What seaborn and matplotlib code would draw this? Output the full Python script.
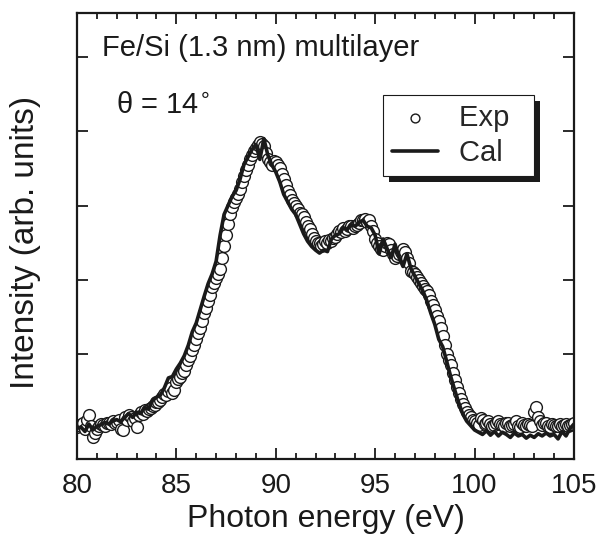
import numpy as np
import pandas as pd
import matplotlib
matplotlib.use("Agg")
import matplotlib.pyplot as plt
import seaborn as sns
from matplotlib.patches import Rectangle
from matplotlib.ticker import MultipleLocator

# %%
# Data
# experiment: 80-105 eV, 0.1 eV step; calculation: 80-105 eV, 0.2 eV step
exp_start, exp_step = 80.0, 0.1
cal_start, cal_step = 80.0, 0.2

exp_intensity = [
    0.02, 0.05, 0.04, 0.08, 0.00, 0.12, 0.18, 0.03, -0.12, -0.06,
    0.00, 0.04, 0.06, 0.05, 0.03, 0.07, 0.08, 0.06, 0.10, 0.08,
    0.09, 0.12, 0.00, -0.02, 0.15, 0.12, 0.18, 0.16, 0.10, 0.14,
    0.02, 0.18, 0.22, 0.20, 0.25, 0.24, 0.26, 0.28, 0.30, 0.32,
    0.35, 0.36, 0.38, 0.42, 0.47, 0.45, 0.50, 0.55, 0.48, 0.52,
    0.62, 0.66, 0.69, 0.74, 0.78, 0.85, 0.92, 0.98, 1.05, 1.12,
    1.20, 1.28, 1.35, 1.45, 1.55, 1.62, 1.72, 1.80, 1.90, 1.96,
    2.02, 2.08, 2.15, 2.30, 2.45, 2.60, 2.75, 2.88, 2.98, 3.05,
    3.10, 3.15, 3.22, 3.32, 3.40, 3.48, 3.55, 3.62, 3.68, 3.74,
    3.78, 3.82, 3.85, 3.83, 3.80, 3.70, 3.62, 3.58, 3.55, 3.60,
    3.58, 3.55, 3.50, 3.42, 3.35, 3.28, 3.20, 3.14, 3.08, 3.04,
    3.00, 2.95, 2.90, 2.88, 2.84, 2.78, 2.72, 2.68, 2.62, 2.56,
    2.52, 2.50, 2.50, 2.46, 2.48, 2.52, 2.50, 2.54, 2.52, 2.56,
    2.58, 2.62, 2.66, 2.64, 2.70, 2.66, 2.68, 2.72, 2.72, 2.70,
    2.72, 2.74, 2.76, 2.80, 2.80, 2.82, 2.78, 2.80, 2.72, 2.66,
    2.55, 2.50, 2.45, 2.42, 2.40, 2.46, 2.50, 2.48, 2.40, 2.35,
    2.30, 2.32, 2.35, 2.38, 2.42, 2.38, 2.30, 2.22, 2.12, 2.10,
    2.08, 2.04, 2.00, 1.96, 1.92, 1.88, 1.85, 1.80, 1.72, 1.66,
    1.60, 1.52, 1.45, 1.35, 1.25, 1.12, 1.00, 0.92, 0.85, 0.75,
    0.65, 0.56, 0.48, 0.40, 0.33, 0.28, 0.22, 0.18, 0.15, 0.12,
    0.10, 0.07, 0.05, 0.14, 0.12, 0.06, 0.08, 0.10, 0.06, 0.04,
    0.05, 0.08, 0.10, 0.06, 0.05, 0.03, 0.08, 0.07, 0.03, 0.05,
    0.06, 0.10, 0.04, 0.02, 0.07, 0.05, 0.03, 0.06, 0.05, 0.04,
    0.22, 0.29, 0.15, 0.10, 0.05, 0.08, 0.07, 0.04, 0.02, 0.06,
    0.05, 0.03, 0.04, 0.06, 0.03, 0.05, 0.06, 0.04, 0.05, 0.06,
    0.08,
]

cal_intensity = [
    0.00, 0.02, -0.04, 0.06, -0.02, 0.03, 0.05, 0.08, 0.06, 0.10,
    0.12, 0.09, 0.15, 0.20, 0.15, 0.22, 0.20, 0.28, 0.26, 0.38,
    0.42, 0.45, 0.55, 0.68, 0.70, 0.80, 0.88, 0.98, 1.12, 1.30,
    1.42, 1.60, 1.78, 1.95, 2.08, 2.25, 2.60, 2.88, 3.00, 3.12,
    3.20, 3.35, 3.55, 3.65, 3.75, 3.82, 3.62, 3.90, 3.68, 3.55,
    3.45, 3.32, 3.15, 3.05, 2.95, 2.88, 2.75, 2.62, 2.52, 2.45,
    2.40, 2.36, 2.40, 2.38, 2.55, 2.60, 2.62, 2.70, 2.68, 2.74,
    2.72, 2.78, 2.80, 2.72, 2.70, 2.60, 2.35, 2.55, 2.42, 2.30,
    2.48, 2.30, 2.18, 2.35, 2.15, 2.05, 1.95, 1.85, 1.72, 1.55,
    1.40, 1.20, 1.10, 0.90, 0.70, 0.52, 0.35, 0.20, 0.10, 0.04,
    -0.02, -0.05, -0.08, -0.03, -0.09, -0.04, -0.10, -0.05, -0.08, -0.12,
    -0.06, -0.10, -0.08, -0.13, -0.09, -0.12, -0.07, -0.10, -0.06, -0.10,
    -0.08, -0.14, -0.04, -0.10, 0.00, 0.06,
]

exp_df = pd.DataFrame({
    "energy": np.round(exp_start + exp_step * np.arange(len(exp_intensity)), 2),
    "intensity": exp_intensity,
})
cal_df = pd.DataFrame({
    "energy": np.round(cal_start + cal_step * np.arange(len(cal_intensity)), 2),
    "intensity": cal_intensity,
})

x_ticks = [80, 85, 90, 95, 100, 105]
y_ticks = [0, 1, 2, 3, 4, 5]

# %%
sns.set_style("ticks")
plt.rcParams["font.family"] = ["Liberation Sans", "DejaVu Sans"]
ink = "#1a1a1a"

fig = plt.figure(figsize=(5.99, 5.35), dpi=100)
ax = fig.add_axes([0.1285, 0.1421, 0.8297, 0.8336])

sns.scatterplot(data=exp_df, x="energy", y="intensity", ax=ax, marker="o", s=72,
                facecolor="white", edgecolor=ink, linewidth=1.0,
                label="Exp  ", zorder=2)
sns.lineplot(data=cal_df, x="energy", y="intensity", ax=ax, color=ink,
             linewidth=2.6, label="Cal  ", zorder=3)

ax.set_xlim(80, 105)
ax.set_ylim(-0.41, 5.59)
ax.set_xticks(x_ticks)
ax.xaxis.set_minor_locator(MultipleLocator(1))
ax.set_yticks(y_ticks)
ax.set_yticklabels([])
ax.tick_params(which="both", direction="in", top=True, right=True,
               width=1.3, color=ink)
ax.tick_params(which="major", length=8, labelsize=20, pad=10, labelcolor=ink)
ax.tick_params(which="minor", length=4.5)
for sp in ax.spines.values():
    sp.set_linewidth(1.6)
    sp.set_color(ink)

ax.set_xlabel("Photon energy (eV)", fontsize=23, labelpad=4, color=ink)
ax.set_ylabel("Intensity (arb. units)", fontsize=24, labelpad=16, color=ink)
ax.yaxis.label.set_position((0, 0.485))

ax.text(0.0503, 0.9036, "Fe/Si (1.3 nm) multilayer", transform=ax.transAxes,
        fontsize=21, va="baseline", ha="left", color=ink)
ax.text(0.0785, 0.776, "θ = 14$^{\\circ}$", transform=ax.transAxes,
        fontsize=21, va="baseline", ha="left", color=ink)

leg = ax.legend(loc="upper left", bbox_to_anchor=(0.6157, 0.8161),
                borderaxespad=0, fontsize=21, frameon=True, fancybox=False,
                framealpha=1, handlelength=1.6, handletextpad=0.7,
                labelspacing=0.25, borderpad=0.3, markerscale=0.75)
leg.get_frame().set_edgecolor(ink)
leg.get_frame().set_linewidth(0.8)
leg.set_zorder(6)

# black drop shadow behind legend box
fig.canvas.draw()
bb = leg.get_frame().get_window_extent().transformed(ax.transAxes.inverted())
dx = 6 / (ax.get_position().width * fig.get_figwidth() * fig.dpi)
dy = 6 / (ax.get_position().height * fig.get_figheight() * fig.dpi)
ax.add_patch(Rectangle((bb.x0 + dx, bb.y0 - dy), bb.width, bb.height,
                       transform=ax.transAxes, facecolor=ink,
                       edgecolor="none", clip_on=False, zorder=5))

fig.savefig("out.png", dpi=100)
